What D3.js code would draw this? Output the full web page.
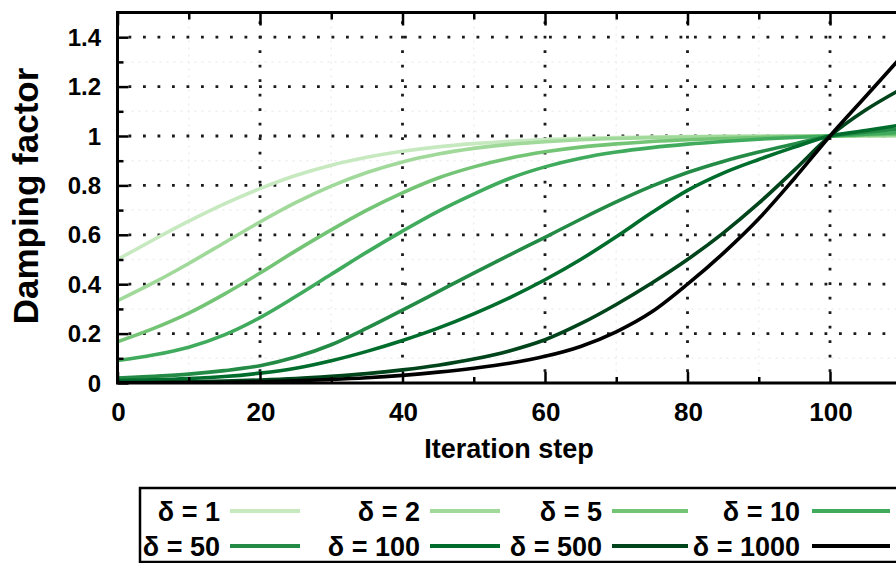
<!DOCTYPE html>
<html>
<head>
<meta charset="utf-8">
<script src="https://cdn.jsdelivr.net/npm/d3@7"></script>
<style>
  html, body { margin: 0; padding: 0; background: #fff; }
  svg { display: block; font-family: "Liberation Sans", Arial, sans-serif; font-weight: bold; }
</style>
</head>
<body>
<svg id="chart" width="896" height="563"></svg>
<script>
// Iteration steps at which the damping factor is sampled
const steps = [0,5,10,15,20,25,30,35,40,45,50,55,60,65,70,75,80,85,90,95,100,105,110];

// Damping factor per delta value
const deltas = [1, 2, 5, 10, 50, 100, 500, 1000];
const d1    = [0.5,0.579,0.655,0.725,0.787,0.84,0.882,0.914,0.938,0.956,0.969,0.979,0.986,0.991,0.994,0.996,0.9975,0.9985,0.9992,0.9997,1.0,1.0,1.0];
const d2    = [0.333,0.405,0.484,0.568,0.652,0.73,0.797,0.852,0.895,0.927,0.95,0.966,0.977,0.985,0.99,0.9935,0.996,0.9975,0.9986,0.9994,1.0,1.001,1.002];
const d5    = [0.167,0.22,0.283,0.36,0.445,0.535,0.62,0.70,0.77,0.83,0.875,0.91,0.936,0.955,0.968,0.978,0.985,0.99,0.994,0.997,1.0,1.004,1.008];
const d10   = [0.091,0.113,0.145,0.195,0.265,0.35,0.44,0.53,0.615,0.695,0.765,0.828,0.875,0.91,0.935,0.953,0.967,0.978,0.987,0.994,1.0,1.007,1.014];
const d50   = [0.02,0.027,0.036,0.05,0.07,0.105,0.155,0.222,0.295,0.37,0.445,0.518,0.59,0.663,0.733,0.797,0.852,0.897,0.935,0.968,1.0,1.015,1.03];
const d100  = [0.01,0.013,0.018,0.026,0.04,0.06,0.09,0.128,0.172,0.222,0.28,0.345,0.418,0.50,0.592,0.69,0.78,0.85,0.905,0.955,1.0,1.022,1.045];
const d500  = [0.002,0.003,0.005,0.008,0.012,0.018,0.027,0.038,0.053,0.072,0.097,0.13,0.175,0.24,0.318,0.405,0.50,0.607,0.728,0.862,1.0,1.105,1.19];
const d1000 = [0.001,0.001,0.002,0.003,0.005,0.009,0.014,0.021,0.031,0.044,0.06,0.08,0.108,0.148,0.207,0.288,0.40,0.525,0.665,0.828,1.0,1.16,1.32];
const seriesValues = [d1, d2, d5, d10, d50, d100, d500, d1000];
const seriesColors = ["#c7e9c0","#a1d99b","#74c476","#41ab5d","#238b45","#006d2c","#00441b","#000000"];

// Axis ticks
const xMajorTicks = [0, 20, 40, 60, 80, 100];
const xMinorTicks = [10, 30, 50, 70, 90, 110];
const yMajorTicks = [0, 0.2, 0.4, 0.6, 0.8, 1, 1.2, 1.4];
const yMinorTicks = [0.1, 0.3, 0.5, 0.7, 0.9, 1.1, 1.3];
const yTickLabels = ["0", "0.2", "0.4", "0.6", "0.8", "1", "1.2", "1.4"];

const svg = d3.select("#chart");
const W = 896, H = 563;
const plotLeft = 117.5, plotTop = 12.5, plotBottom = 383;

const x = d3.scaleLinear().domain([0, 110]).range([plotLeft, plotLeft + 7.125 * 110]);
const y = d3.scaleLinear().domain([0, 1.5]).range([plotBottom, plotTop]);

svg.append("defs").append("clipPath").attr("id", "plot")
  .append("rect").attr("x", plotLeft).attr("y", plotTop)
  .attr("width", W - plotLeft).attr("height", plotBottom - plotTop);

// faint minor grid
svg.append("g").selectAll("line").data(yMinorTicks).join("line")
  .attr("x1", plotLeft).attr("x2", W).attr("y1", d => y(d)).attr("y2", d => y(d))
  .attr("stroke", "#eeeeee").attr("stroke-width", 1.5).attr("stroke-dasharray", "2 5");
svg.append("g").selectAll("line").data(xMinorTicks).join("line")
  .attr("x1", d => x(d)).attr("x2", d => x(d)).attr("y1", plotTop).attr("y2", plotBottom)
  .attr("stroke", "#eeeeee").attr("stroke-width", 1.5).attr("stroke-dasharray", "2 5");

// major dotted grid
svg.append("g").selectAll("line").data(yMajorTicks.filter(d => d > 0)).join("line")
  .attr("x1", plotLeft).attr("x2", W).attr("y1", d => y(d)).attr("y2", d => y(d))
  .attr("stroke", "#1a1a1a").attr("stroke-width", 2.8).attr("stroke-dasharray", "2.8 11.7")
  .attr("stroke-dashoffset", -11);
svg.append("g").selectAll("line").data(xMajorTicks.filter(d => d > 0)).join("line")
  .attr("x1", d => x(d)).attr("x2", d => x(d)).attr("y1", plotBottom).attr("y2", plotTop)
  .attr("stroke", "#1a1a1a").attr("stroke-width", 2.8).attr("stroke-dasharray", "2.8 11.7")
  .attr("stroke-dashoffset", -11);

// curves
const line = d3.line()
  .x((d, i) => x(steps[i]))
  .y(d => y(d))
  .curve(d3.curveMonotoneX);
svg.append("g").attr("clip-path", "url(#plot)")
  .selectAll("path").data(seriesValues).join("path")
  .attr("d", d => line(d))
  .attr("fill", "none")
  .attr("stroke", (d, i) => seriesColors[i])
  .attr("stroke-width", 3.6)
  .attr("stroke-linejoin", "round");

// axes built from d3 axis generators, with inward ticks
const axisStyle = sel => {
  sel.select(".domain").remove();
  sel.selectAll(".tick line").attr("stroke", "#000").attr("stroke-width", 2.5);
};
svg.append("g").attr("transform", `translate(0,${plotBottom})`)
  .call(d3.axisTop(x).tickValues(xMajorTicks).tickSize(11).tickFormat(""))
  .call(axisStyle);
svg.append("g").attr("transform", `translate(0,${plotBottom})`)
  .call(d3.axisTop(x).tickValues(xMinorTicks).tickSize(6).tickFormat(""))
  .call(axisStyle);
svg.append("g").attr("transform", `translate(0,${plotTop})`)
  .call(d3.axisBottom(x).tickValues(xMajorTicks).tickSize(13).tickFormat(""))
  .call(axisStyle);
svg.append("g").attr("transform", `translate(0,${plotTop})`)
  .call(d3.axisBottom(x).tickValues(xMinorTicks).tickSize(7).tickFormat(""))
  .call(axisStyle);
svg.append("g").attr("transform", `translate(${plotLeft},0)`)
  .call(d3.axisRight(y).tickValues(yMajorTicks).tickSize(11).tickFormat(""))
  .call(axisStyle);
svg.append("g").attr("transform", `translate(${plotLeft},0)`)
  .call(d3.axisRight(y).tickValues(yMinorTicks).tickSize(6).tickFormat(""))
  .call(axisStyle);

// border
svg.append("path")
  .attr("d", `M${W},${plotTop}H${plotLeft}V${plotBottom}H${W}`)
  .attr("fill", "none").attr("stroke", "#000").attr("stroke-width", 3);

// tick labels
svg.append("g").selectAll("text").data(yMajorTicks).join("text")
  .attr("x", 101).attr("y", d => y(d)).attr("dy", "0.36em")
  .attr("text-anchor", "end").attr("font-size", 24)
  .text((d, i) => yTickLabels[i]);
svg.append("g").selectAll("text").data(xMajorTicks).join("text")
  .attr("x", d => x(d) + 1).attr("y", 421)
  .attr("text-anchor", "middle").attr("font-size", 26)
  .text(d => d);

// axis titles
svg.append("text").attr("x", 509).attr("y", 458)
  .attr("text-anchor", "middle").attr("font-size", 27).text("Iteration step");
svg.append("text").attr("transform", "translate(38,196) rotate(-90)")
  .attr("text-anchor", "middle").attr("font-size", 35).text("Damping factor");

// legend
const legend = svg.append("g");
legend.append("rect").attr("x", 140).attr("y", 488).attr("width", 800).attr("height", 74)
  .attr("fill", "#fff").attr("stroke", "#000").attr("stroke-width", 2.5);
const colText = [220, 420, 602, 800];
const colL0 = [230, 430, 612, 812];
const colL1 = [300, 500, 688, 890];
const rowY = [511, 546];
const items = deltas.map((dv, i) => ({ dv, i, col: i % 4, row: Math.floor(i / 4) }));
legend.selectAll("text").data(items).join("text")
  .attr("x", d => colText[d.col]).attr("y", d => rowY[d.row]).attr("dy", "0.36em")
  .attr("text-anchor", "end").attr("font-size", 27)
  .text(d => `δ = ${d.dv}`);
legend.selectAll("line").data(items).join("line")
  .attr("x1", d => colL0[d.col]).attr("x2", d => colL1[d.col])
  .attr("y1", d => rowY[d.row]).attr("y2", d => rowY[d.row])
  .attr("stroke", d => seriesColors[d.i]).attr("stroke-width", 4);
</script>
</body>
</html>
